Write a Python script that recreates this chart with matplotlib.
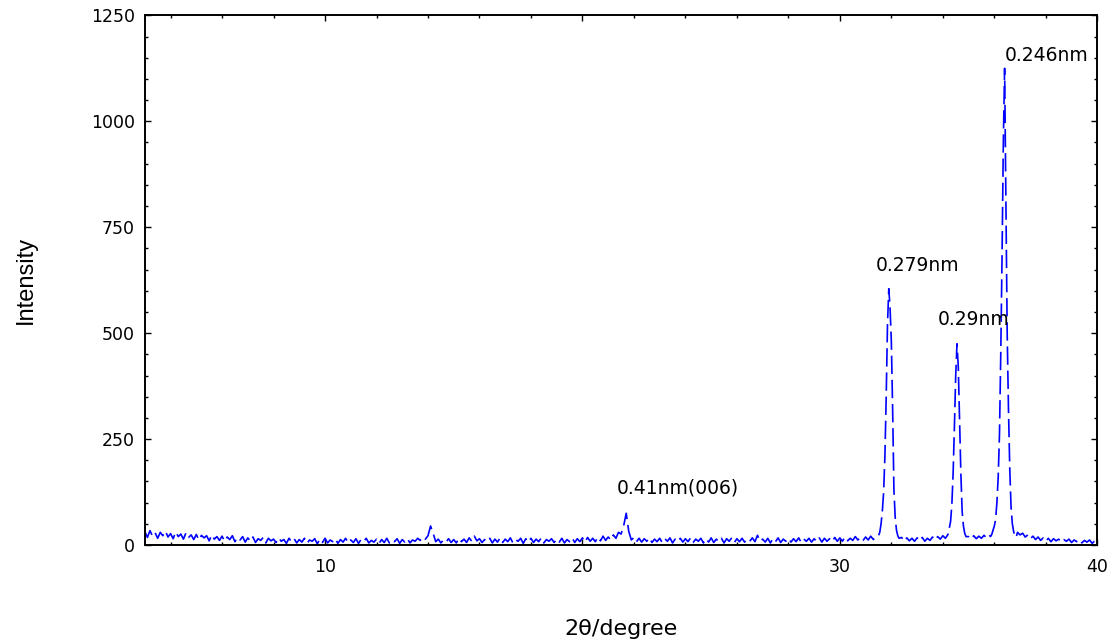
import numpy as np
import matplotlib
matplotlib.use("Agg")
import matplotlib.pyplot as plt
from matplotlib.ticker import MultipleLocator

# baseline scan, 2theta = 3.0 ... 40.0 step 0.1 (one row per degree)
base_start = 3.0
base_step = 0.1
base_counts = [
    32, 18, 34, 21, 29, 16, 30, 22, 33, 19,   # 3
    27, 15, 31, 20, 26, 14, 29, 18, 24, 13,   # 4
    25, 12, 23, 17, 22, 10, 24, 14, 20, 11,   # 5
    21, 9, 19, 13, 22, 8, 18, 12, 20, 7,      # 6
    17, 9, 19, 6, 15, 11, 18, 5, 16, 10,      # 7
    14, 6, 17, 9, 13, 4, 16, 8, 15, 5,        # 8
    13, 7, 16, 4, 12, 9, 15, 3, 14, 6,        # 9
    16, 5, 12, 8, 15, 4, 13, 7, 16, 5,        # 10
    12, 6, 15, 4, 13, 8, 16, 5, 11, 7,        # 11
    14, 4, 13, 6, 16, 5, 12, 8, 15, 4,        # 12
    13, 7, 15, 5, 12, 9, 16, 11, 19, 14,      # 13
    22, 45, 28, 8, 14, 5, 12, 7, 15, 6,       # 14
    13, 5, 16, 8, 14, 6, 17, 9, 21, 10,       # 15
    15, 6, 13, 8, 16, 5, 14, 7, 17, 6,        # 16
    14, 8, 17, 5, 13, 9, 16, 4, 15, 7,        # 17
    16, 6, 14, 8, 17, 5, 13, 9, 15, 6,        # 18
    14, 7, 16, 5, 13, 8, 17, 6, 15, 8,        # 19
    17, 7, 18, 9, 16, 8, 19, 10, 21, 11,      # 20
    19, 12, 24, 16, 30, 26, 45, 75, 32, 12,   # 21
    18, 8, 16, 7, 15, 9, 17, 6, 14, 8,        # 22
    16, 6, 15, 9, 17, 5, 14, 8, 16, 7,        # 23
    15, 8, 17, 6, 14, 9, 16, 5, 15, 7,        # 24
    17, 6, 14, 8, 16, 5, 15, 9, 17, 6,        # 25
    15, 8, 16, 7, 14, 9, 17, 8, 23, 9,        # 26
    14, 7, 16, 5, 15, 8, 17, 6, 14, 9,        # 27
    16, 7, 15, 8, 17, 6, 14, 9, 16, 7,        # 28
    15, 8, 17, 7, 16, 9, 15, 8, 18, 9,        # 29
    17, 9, 19, 10, 16, 11, 20, 12, 18, 11,    # 30
    19, 12, 21, 13, 20, 17, 45, 110, 380, 610,  # 31
    300, 60, 25, 12, 18, 9, 17, 10, 16, 9,    # 32
    17, 10, 18, 9, 16, 11, 19, 12, 20, 14,    # 33
    22, 16, 24, 45, 120, 475, 200, 40, 24, 12,  # 34
    20, 14, 22, 15, 21, 16, 23, 17, 24, 19,   # 35
    30, 60, 150, 500, 1125, 500, 150, 45, 28, 30,  # 36
    24, 28, 19, 24, 15, 21, 13, 19, 11, 17,   # 37
    9, 16, 8, 15, 10, 14, 7, 13, 9, 14,       # 38
    6, 12, 8, 13, 5, 11, 7, 12, 4, 10,        # 39
    6,                                        # 40
]

# finer scans (step 0.05) over the three strong reflections
fine_step = 0.05
peak1_start = 31.50
peak1_counts = [22, 30, 50, 80, 125, 210, 350, 520, 605, 560, 480, 320,
                130, 65, 35, 22, 16]
peak2_start = 34.20
peak2_counts = [25, 40, 55, 95, 170, 280, 400, 475, 420, 290, 170, 80,
                45, 28, 20]
peak3_start = 35.85
peak3_counts = [20, 25, 35, 45, 60, 100, 160, 260, 450, 680, 950, 1125,
                820, 500, 320, 180, 90, 50, 32, 22, 18]

labels = ["0.41nm(006)", "0.279nm", "0.29nm", "0.246nm"]
label_x = [23.7, 33.0, 35.2, 38.05]
label_y = [134, 660, 533, 1156]

# merge the scans
tt = np.round(base_start + base_step * np.arange(len(base_counts)), 2)
yy = np.array(base_counts, dtype=float)
for st, cnt in [(peak1_start, peak1_counts), (peak2_start, peak2_counts),
                (peak3_start, peak3_counts)]:
    px = np.round(st + fine_step * np.arange(len(cnt)), 2)
    keep = (tt < px[0]) | (tt > px[-1])
    tt = np.concatenate([tt[keep], px])
    yy = np.concatenate([yy[keep], np.array(cnt, dtype=float)])
order = np.argsort(tt)
tt, yy = tt[order], yy[order]

fig = plt.figure(figsize=(11.14, 6.39), dpi=100)
ax = fig.add_axes([0.130, 0.147, 0.855, 0.829])

ax.plot(tt, yy, color="blue", lw=1.2, linestyle=(0, (11, 3.5)))

for s, x, y in zip(labels, label_x, label_y):
    ax.text(x, y, s, ha="center", va="center", fontsize=13.5)

ax.set_xlim(3, 40)
ax.set_ylim(0, 1250)
ax.xaxis.set_major_locator(MultipleLocator(10))
ax.xaxis.set_minor_locator(MultipleLocator(2))
ax.yaxis.set_major_locator(MultipleLocator(250))
ax.yaxis.set_minor_locator(MultipleLocator(50))
ax.tick_params(which="both", direction="in", top=True, right=True,
               width=1.0, labelsize=12.5)
ax.tick_params(which="major", length=4)
ax.tick_params(which="minor", length=2.5)
ax.tick_params(axis="x", pad=9)
ax.tick_params(axis="y", pad=7)
for sp in ax.spines.values():
    sp.set_linewidth(1.4)

ax.set_xlabel("2θ/degree", fontsize=16)
ax.xaxis.set_label_coords(0.5, -0.14)
ax.set_ylabel("Intensity", fontsize=17, family="Liberation Sans")
ax.yaxis.set_label_coords(-0.113, 0.5)

fig.savefig("out.png", dpi=100)
